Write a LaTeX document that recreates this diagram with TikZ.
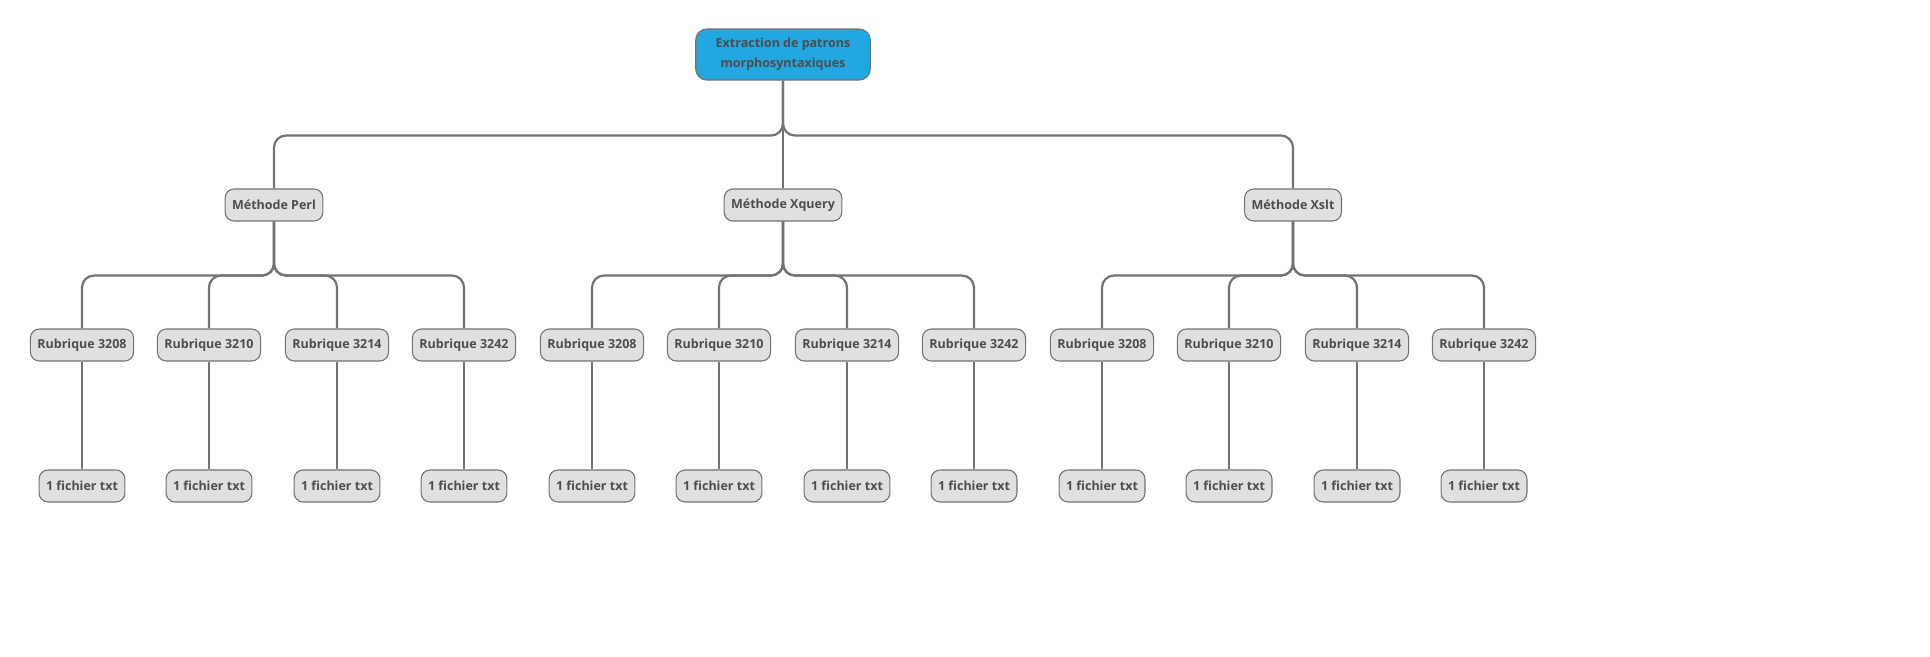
\documentclass[tikz,border=0pt]{standalone}
\usepackage{fontspec}
\setmainfont{Open Sans}
\definecolor{linegray}{HTML}{737373}
\definecolor{boxgray}{HTML}{E0E0E0}
\definecolor{textgray}{HTML}{4D4D4D}
\definecolor{rootblue}{HTML}{22A7E0}
\tikzset{
  leaf/.style={draw=linegray, line width=1.1pt, fill=boxgray, rounded corners=9pt,
    text=textgray, font=\bfseries\fontsize{12.5}{19.5}\selectfont,
    minimum height=32pt, inner xsep=7pt},
  rootbox/.style={leaf, fill=rootblue, minimum height=51pt, inner xsep=20pt,
    align=center, rounded corners=11pt},
  branch/.style={draw=linegray, line width=2.2pt, rounded corners=12pt}
}

\begin{document}
\begin{tikzpicture}[x=1pt,y=-1pt]
  \useasboundingbox (0,0) rectangle (1930,656);

  % Root and methods
  \node [rootbox] (root) at (783,54.5) {Extraction de patrons\\morphosyntaxiques};
  \node [leaf] (m1) at (274,205) {Méthode Perl};
  \node [leaf] (m2) at (783,205) {Méthode Xquery};
  \node [leaf] (m3) at (1293,205) {Méthode Xslt};

  \draw [branch] (root.south) -- ++(0,55) -| (m1.north);
  \draw [branch] (root.south) -- (m2.north);
  \draw [branch] (root.south) -- ++(0,55) -| (m3.north);

  % Rubriques and files
  \foreach \m/\x in {1/0, 2/510, 3/1020} {
    \foreach \r/\dx/\num in {1/82/3208, 2/209/3210, 3/337/3214, 4/464/3242} {
      \node [leaf] (r\m\r) at ({\x+\dx},345) {Rubrique \num};
      \node [leaf] (f\m\r) at ({\x+\dx},486) {1 fichier txt};
      \draw [branch] (m\m.south) -- ++(0,54) -| (r\m\r.north);
      \draw [branch] (r\m\r.south) -- (f\m\r.north);
    }
  }
\end{tikzpicture}
\end{document}
